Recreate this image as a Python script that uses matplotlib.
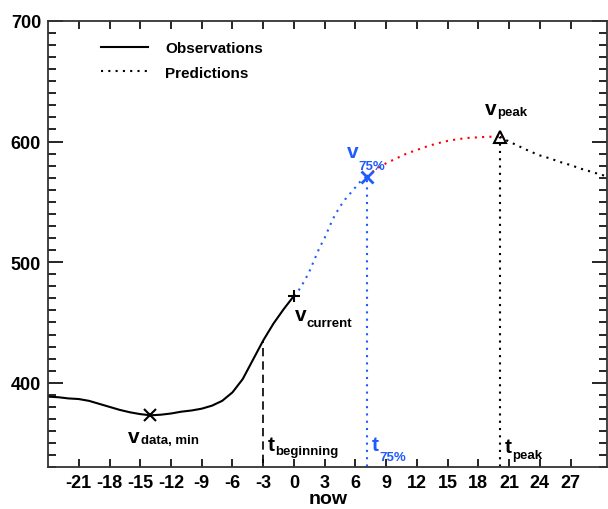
import matplotlib.pyplot as plt
import numpy as np

plt.rcParams['font.family'] = ['Liberation Sans', 'DejaVu Sans']
plt.rcParams['font.weight'] = 'bold'
plt.rcParams['axes.unicode_minus'] = False

# observed values (solid black)
obs_t = [-24, -23, -22, -21, -20, -19, -18, -17, -16, -15, -14, -13, -12,
         -11, -10, -9, -8, -7, -6, -5, -4, -3, -2, -1, 0]
obs_v = [388.5, 388, 387, 386.5, 385, 382.5, 380, 377.5, 375.5, 374, 373,
         373.5, 374.5, 376, 377, 378.5, 381, 385, 392, 403, 419, 435, 449,
         461, 472]

# predictions: now -> t75 (blue), t75 -> peak (red), after peak (black)
pred1_t = [0, 0.5, 1, 1.5, 2, 2.5, 3, 3.5, 4, 4.5, 5, 5.5, 6, 6.5, 7.1]
pred1_v = [472, 477, 484, 492, 502, 512, 520, 530, 539, 546, 552, 557, 562,
           567, 571]
pred2_t = [7.1, 8, 9, 10, 11, 12, 13, 14, 15, 16, 17, 18, 19, 20.1]
pred2_v = [571, 577, 582, 586, 590, 593, 596, 598.5, 600.5, 602, 603, 603.5,
           604, 604]
pred3_t = [20.1, 21, 22, 23, 24, 25, 26, 27, 28, 29, 30, 31]
pred3_v = [604, 600, 596, 592, 588.5, 586, 583, 580.5, 577.5, 575, 572.5, 570]

t_min, v_min = -14, 373
t_cur, v_cur = 0, 472
t_beg, v_beg = -3, 435
t_75, v_75 = 7.1, 571
t_peak, v_peak = 20.1, 604

blue = '#1f5cff'
dot = (0, (1, 2.5))

fig = plt.figure(figsize=(6.08, 5.10), dpi=100)
ax = fig.add_axes([0.079, 0.082, 0.92, 0.875])

ax.plot(obs_t, obs_v, color='black', lw=1.5, label='Observations')
ax.plot(pred1_t, pred1_v, color=blue, lw=1.5, linestyle=dot)
ax.plot(pred2_t, pred2_v, color='red', lw=1.5, linestyle=dot)
ax.plot(pred3_t, pred3_v, color='black', lw=1.5, linestyle=dot,
        label='Predictions')

# vertical markers
ax.plot([t_beg, t_beg], [300, v_beg], color='black', lw=1.2, linestyle=(0, (5, 3)))
ax.plot([t_75, t_75], [300, v_75], color=blue, lw=1.5, linestyle=dot)
ax.plot([t_peak, t_peak], [300, v_peak], color='black', lw=1.5, linestyle=dot)

ax.plot(t_min, v_min, marker='x', color='black', ms=8, mew=1.5)
ax.plot(t_cur, v_cur, marker='+', color='black', ms=9, mew=1.5)
ax.plot(t_75, v_75, marker='x', color=blue, ms=8, mew=2)
ax.plot(t_peak, v_peak, marker='^', mfc='none', mec='black', ms=8, mew=1.5)


# labels: main letter plus a subscript placed a few pixels right/down
def label(main, sub, x, y, dx, dy, color='black'):
    ax.text(x, y, main, fontsize=15, fontweight='bold', color=color,
            va='baseline')
    ax.annotate(sub, (x, y), xytext=(dx, -dy), textcoords='offset pixels',
                fontsize=9.5, fontweight='bold', color=color, va='baseline')


label('v', 'data, min', -16.2, 351.0, 13, 1)
label('v', 'current', 0.1, 452.4, 12, 6)
label('v', '75%', 5.18, 587.0, 11, 12, color=blue)
label('v', 'peak', 18.65, 622.8, 12, 1)
label('t', 'beginning', -2.54, 344.3, 7.5, 4)
label('t', '75%', 7.62, 344.3, 7.5, 10, color=blue)
label('t', 'peak', 20.6, 342.6, 7.5, 6)

ax.set_xlim(-24, 30.6)
ax.set_ylim(330, 700)
ax.set_xticks(np.arange(-21, 30, 3))
ax.set_yticks([400, 500, 600, 700])
ax.set_yticks(np.arange(330, 701, 10), minor=True)
ax.tick_params(axis='both', which='both', direction='in', top=True, right=True,
               labelsize=13, width=1.2)
ax.tick_params(axis='y', which='major', length=11, pad=5)
ax.tick_params(axis='y', which='minor', length=6)
ax.tick_params(axis='x', which='major', length=6, pad=5)
for lab in ax.get_xticklabels() + ax.get_yticklabels():
    lab.set_fontweight('bold')
for s in ax.spines.values():
    s.set_linewidth(1.3)
    s.set_color('#333333')

# axis title, centred under the axes
fig.text(0.539, 0.011, 'now', fontsize=14, fontweight='bold',
         ha='center', va='baseline')

ax.legend(loc='upper left', bbox_to_anchor=(0.0696, 0.986), frameon=False,
          fontsize=11, handlelength=3.1, handletextpad=1.1, labelspacing=0.7)

plt.savefig('out.png', dpi=100)
